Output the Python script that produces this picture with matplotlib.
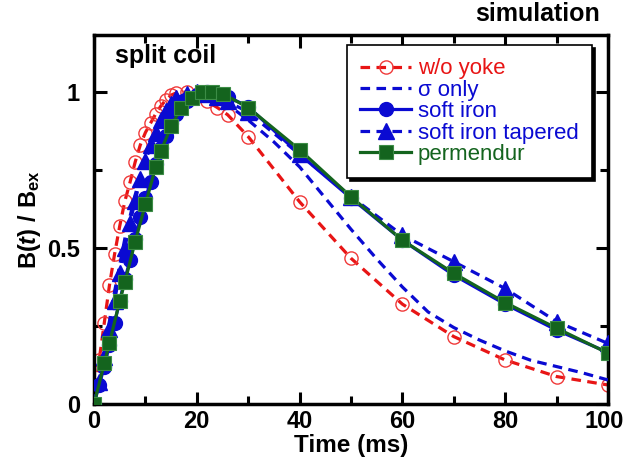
import matplotlib
matplotlib.use("Agg")
import matplotlib.pyplot as plt
from matplotlib.ticker import MultipleLocator
from matplotlib.transforms import ScaledTranslation

plt.rcParams['font.family'] = ['Liberation Sans', 'DejaVu Sans']
plt.rcParams['mathtext.fontset'] = 'custom'
plt.rcParams['mathtext.rm'] = 'Liberation Sans:bold'
plt.rcParams['mathtext.it'] = 'Liberation Sans:italic:bold'
plt.rcParams['mathtext.bf'] = 'Liberation Sans:bold'

# ---- data ----
t_noyoke = [0, 1, 2, 3, 4, 5, 6, 7, 8, 9, 10, 11, 12, 13, 14, 15, 16, 18, 20, 22, 24, 26, 30,
            40, 50, 60, 70, 80, 90, 100]
v_noyoke = [0, 0.14, 0.26, 0.38, 0.48, 0.57, 0.65, 0.71, 0.775, 0.83, 0.87, 0.90, 0.93, 0.955,
            0.975, 0.99, 0.997, 1.0, 0.99, 0.97, 0.95, 0.927, 0.857,
            0.648, 0.467, 0.32, 0.216, 0.141, 0.088, 0.061]

t_sigma = [0, 2, 4, 6, 8, 10, 12, 14, 16, 18, 20, 22, 24, 26, 30, 35, 40, 45, 50, 55, 60,
           65, 70, 75, 80, 85, 90, 95, 100]
v_sigma = [0, 0.17, 0.36, 0.53, 0.67, 0.78, 0.87, 0.93, 0.97, 0.99, 1.0, 0.995, 0.98, 0.96,
           0.91, 0.84, 0.76, 0.66, 0.56, 0.465, 0.375, 0.295, 0.245, 0.205, 0.17, 0.14,
           0.12, 0.1, 0.077]

t_soft = [0, 1, 2, 3, 4, 5, 6, 7, 8, 9, 10, 11, 12, 13, 14, 15, 16, 18, 20, 22, 24, 26, 30,
          40, 50, 60, 70, 80, 90, 100]
v_soft = [0, 0.06, 0.12, 0.19, 0.26, 0.33, 0.40, 0.46, 0.53, 0.60, 0.66, 0.71, 0.77, 0.82,
          0.86, 0.90, 0.93, 0.97, 0.99, 1.0, 0.995, 0.985, 0.953,
          0.80, 0.66, 0.525, 0.413, 0.32, 0.237, 0.165]

t_taper = [0, 1, 2, 3, 4, 5, 6, 7, 8, 9, 10, 11, 12, 13, 14, 15, 16, 18, 20, 22, 24, 26, 30,
           40, 50, 60, 70, 80, 90, 100]
v_taper = [0, 0.07, 0.15, 0.24, 0.33, 0.42, 0.50, 0.58, 0.65, 0.72, 0.78, 0.83, 0.87, 0.91,
           0.94, 0.96, 0.98, 0.995, 1.0, 0.995, 0.985, 0.97, 0.935,
           0.80, 0.665, 0.541, 0.456, 0.37, 0.264, 0.194]

t_perm = [0, 2, 3, 5, 6, 8, 10, 12, 13, 15, 17, 19, 21, 23, 25, 30, 40, 50, 60, 70, 80, 90, 100]
v_perm = [0, 0.13, 0.195, 0.33, 0.39, 0.52, 0.64, 0.76, 0.81, 0.89, 0.95, 0.98, 1.0, 1.0,
          0.995, 0.95, 0.815, 0.664, 0.525, 0.419, 0.325, 0.243, 0.163]

labels = ['w/o yoke', 'σ only', 'soft iron', 'soft iron tapered', 'permendur']
xticks = [0, 20, 40, 60, 80, 100]
yticks = [0, 0.5, 1]
yticklabels = ['0', '0.5', '1']

RED = '#e81515'
BLUE = '#0a0ad2'
GREEN = '#14641e'

fig = plt.figure(figsize=(6.25, 4.65), dpi=100)
ax = fig.add_axes([94/625, 1-404/465, (608-94)/625, (404-35)/465])

lw = 2.3
ax.plot(t_noyoke, v_noyoke, color=RED, lw=lw, dashes=(3, 2), marker='o', ms=9.5,
        mfc='none', mec='#f03a3a', mew=1.0, label=labels[0], zorder=2)
ax.plot(t_sigma, v_sigma, color=BLUE, lw=lw, dashes=(3, 2), label=labels[1], zorder=3)
ax.plot(t_soft, v_soft, color=BLUE, lw=lw, marker='o', ms=10, mfc=BLUE, mec=BLUE,
        label=labels[2], zorder=4)
ax.plot(t_taper, v_taper, color=BLUE, lw=lw, dashes=(3, 2), marker='^', ms=11, mfc=BLUE,
        mec=BLUE, label=labels[3], zorder=5)
ax.plot(t_perm, v_perm, color=GREEN, lw=lw, marker='s', ms=10.5, mfc=GREEN, mec='#3c8c46',
        mew=0.8, label=labels[4], zorder=6)

ax.set_xlim(0, 100)
ax.set_ylim(0, (404-35)/312)
ax.set_xticks(xticks)
ax.xaxis.set_minor_locator(MultipleLocator(10))
ax.set_yticks(yticks)
ax.set_yticklabels(yticklabels)
ax.yaxis.set_minor_locator(MultipleLocator(0.25))
ax.tick_params(which='both', direction='in', top=True, right=True, width=2.2,
               labelsize=17)
ax.tick_params(axis='x', which='major', pad=4)
ax.tick_params(axis='y', which='major', pad=10)
ax.tick_params(which='major', length=9)
ax.tick_params(which='minor', length=6)
for lab in ax.get_xticklabels() + ax.get_yticklabels():
    lab.set_fontweight('bold')
xl = ax.get_xticklabels()
xl[-1].set_transform(xl[-1].get_transform() + ScaledTranslation(-3/72, 0, fig.dpi_scale_trans))
for s in ax.spines.values():
    s.set_linewidth(2.5)

ax.set_xlabel('Time (ms)', fontsize=17.5, fontweight='bold', labelpad=1)
ax.set_ylabel(r'$\mathrm{B(}\mathit{t}\mathrm{)\ /\ B_{ex}}$', fontsize=17, labelpad=3)

ax.text((115-94)/514, (404-56)/369, 'split coil', transform=ax.transAxes, fontsize=18,
        fontweight='bold', ha='left', va='center')
fig.text(600/625, 1-14/465, 'simulation', fontsize=18, fontweight='bold',
         ha='right', va='center')

leg = ax.legend(loc='upper right', bbox_to_anchor=(1-16/514, 1-10/369), fontsize=16,
                handlelength=2.3, handletextpad=0.3, labelspacing=0.02,
                borderpad=0.6, borderaxespad=0, fancybox=False,
                shadow={'color': 'black', 'alpha': 1}, framealpha=1, edgecolor='black')
leg.get_frame().set_linewidth(1.2)
for txt, c in zip(leg.get_texts(), [RED, BLUE, BLUE, BLUE, GREEN]):
    txt.set_color(c)

fig.savefig('out.png', dpi=100)
